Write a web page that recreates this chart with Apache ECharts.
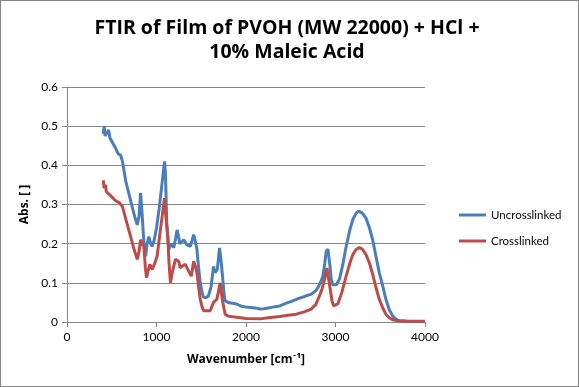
<!DOCTYPE html>
<html><head><meta charset="utf-8">
<script src="https://cdn.jsdelivr.net/npm/echarts@6/dist/echarts.min.js"></script>
<style>html,body{margin:0;padding:0;background:#fff;}#c{width:579px;height:387px;box-sizing:border-box;border:1.5px solid #868686;}</style>
</head><body><div id="c"></div>
<script>
const titleText = "FTIR of Film of PVOH (MW 22000) + HCl +\n10% Maleic Acid";
const xName = "Wavenumber [cm\u207B\u00B9]";
const yName = "Abs. [ ]";
const seriesNames = ["Uncrosslinked", "Crosslinked"];
const xTicks = [0, 1000, 2000, 3000, 4000];
const yTicks = [0, 0.1, 0.2, 0.3, 0.4, 0.5, 0.6];

const uncrossWn = [405,415,425,445,465,480,500,540,570,600,620,656,711,755,785,805,822,835,860,878,895,915,935,952,975,1000,1030,1060,1080,1090,1100,1115,1137,1160,1193,1215,1230,1245,1259,1280,1304,1341,1378,1400,1415,1430,1452,1470,1489,1510,1526,1555,1581,1610,1637,1655,1680,1704,1720,1741,1755,1767,1800,1850,1896,1950,2000,2050,2100,2156,2200,2250,2300,2378,2450,2500,2563,2650,2730,2780,2804,2840,2859,2880,2896,2915,2926,2940,2952,2970,2989,3010,3044,3080,3119,3160,3193,3230,3259,3300,3341,3380,3415,3450,3489,3530,3563,3600,3637,3670,3711,3800,3900,4000];
const uncrossAbs = [0.48,0.50,0.475,0.47,0.49,0.47,0.465,0.445,0.43,0.425,0.41,0.36,0.31,0.27,0.248,0.27,0.33,0.29,0.2,0.168,0.2,0.218,0.2,0.193,0.21,0.24,0.29,0.35,0.39,0.41,0.38,0.25,0.185,0.2,0.19,0.215,0.235,0.22,0.2,0.205,0.21,0.197,0.193,0.21,0.223,0.21,0.185,0.14,0.10,0.075,0.063,0.062,0.067,0.09,0.142,0.126,0.135,0.189,0.16,0.109,0.07,0.054,0.05,0.048,0.046,0.04,0.038,0.037,0.036,0.033,0.034,0.036,0.038,0.041,0.048,0.052,0.058,0.065,0.071,0.08,0.088,0.105,0.117,0.15,0.18,0.186,0.185,0.14,0.109,0.095,0.09,0.095,0.109,0.145,0.193,0.235,0.261,0.278,0.283,0.278,0.265,0.24,0.21,0.17,0.126,0.09,0.058,0.032,0.016,0.008,0.003,0.002,0.001,0.001];

const crossWn = [405,415,430,440,460,500,540,582,619,660,711,750,785,805,822,840,859,875,889,905,926,940,952,980,1007,1035,1063,1089,1105,1126,1140,1156,1180,1211,1230,1248,1265,1290,1322,1359,1389,1415,1430,1452,1470,1489,1510,1526,1600,1637,1674,1695,1711,1725,1741,1767,1800,1896,2000,2156,2250,2378,2470,2563,2650,2730,2780,2822,2850,2878,2904,2920,2941,2960,2978,3000,3026,3070,3119,3160,3193,3230,3267,3300,3341,3380,3415,3450,3489,3530,3563,3600,3637,3711,3800,4000];
const crossAbs = [0.362,0.342,0.35,0.332,0.33,0.32,0.31,0.305,0.295,0.26,0.218,0.185,0.16,0.18,0.21,0.2,0.193,0.14,0.113,0.13,0.147,0.14,0.134,0.15,0.168,0.22,0.269,0.316,0.27,0.218,0.15,0.10,0.13,0.16,0.158,0.155,0.138,0.143,0.147,0.13,0.117,0.155,0.145,0.126,0.09,0.058,0.038,0.029,0.029,0.05,0.058,0.08,0.10,0.075,0.05,0.02,0.015,0.012,0.009,0.008,0.011,0.014,0.017,0.02,0.026,0.033,0.045,0.067,0.085,0.109,0.138,0.115,0.084,0.055,0.041,0.042,0.046,0.075,0.117,0.15,0.172,0.185,0.19,0.186,0.172,0.15,0.122,0.09,0.058,0.035,0.02,0.011,0.006,0.003,0.002,0.002];

const colors = ["#4A7EBB", "#BE4B48"];
const zip = (a, b) => a.map((v, i) => [v, b[i]]);
const font = "Lato, 'Open Sans', sans-serif";
const boldFont = "'Open Sans', Lato, sans-serif";

const chart = echarts.init(document.getElementById('c'), null, {renderer: 'canvas'});
chart.setOption({
  animation: false,
  title: {
    text: titleText, left: 281, top: 10, textAlign: 'center',
    textStyle: {fontFamily: boldFont, fontWeight: 'bold', fontSize: 19.5, lineHeight: 24, color: '#000'}
  },
  grid: {left: 66, right: 153, top: 86, bottom: 64, containLabel: false},
  legend: {
    orient: 'vertical', left: 453, top: 203, itemWidth: 27, itemHeight: 3, itemGap: 14,
    icon: 'rect',
    textStyle: {fontFamily: font, fontSize: 11.5, color: '#000'},
    data: seriesNames
  },
  xAxis: {
    type: 'value', min: xTicks[0], max: xTicks[xTicks.length - 1], interval: 1000,
    name: xName, nameLocation: 'middle', nameGap: 32,
    nameTextStyle: {fontFamily: boldFont, fontWeight: 'bold', fontSize: 12, color: '#000'},
    axisLine: {show: true, lineStyle: {color: '#868686', width: 1}},
    axisTick: {show: true, length: 5, lineStyle: {color: '#868686'}},
    axisLabel: {fontFamily: font, fontSize: 12, color: '#000', margin: 9, formatter: v => String(v)},
    splitLine: {show: false}
  },
  yAxis: {
    type: 'value', min: yTicks[0], max: yTicks[yTicks.length - 1], interval: 0.1,
    name: yName, nameLocation: 'middle', nameGap: 31, nameRotate: 90,
    nameTextStyle: {fontFamily: boldFont, fontWeight: 'bold', fontSize: 12, color: '#000'},
    axisLine: {show: true, lineStyle: {color: '#868686', width: 1}},
    axisTick: {show: true, length: 5, lineStyle: {color: '#868686'}},
    axisLabel: {fontFamily: font, fontSize: 12, color: '#000', margin: 9,
      formatter: v => String(Math.round(v * 10) / 10)},
    splitLine: {show: true, lineStyle: {color: '#868686', width: 1}}
  },
  series: [
    {name: seriesNames[0], type: 'line', data: zip(uncrossWn, uncrossAbs), showSymbol: false, symbol: 'none',
     lineStyle: {width: 3, color: colors[0]}, itemStyle: {color: colors[0]}, z: 2},
    {name: seriesNames[1], type: 'line', data: zip(crossWn, crossAbs), showSymbol: false, symbol: 'none',
     lineStyle: {width: 3, color: colors[1]}, itemStyle: {color: colors[1]}, z: 3}
  ]
});
</script></body></html>
